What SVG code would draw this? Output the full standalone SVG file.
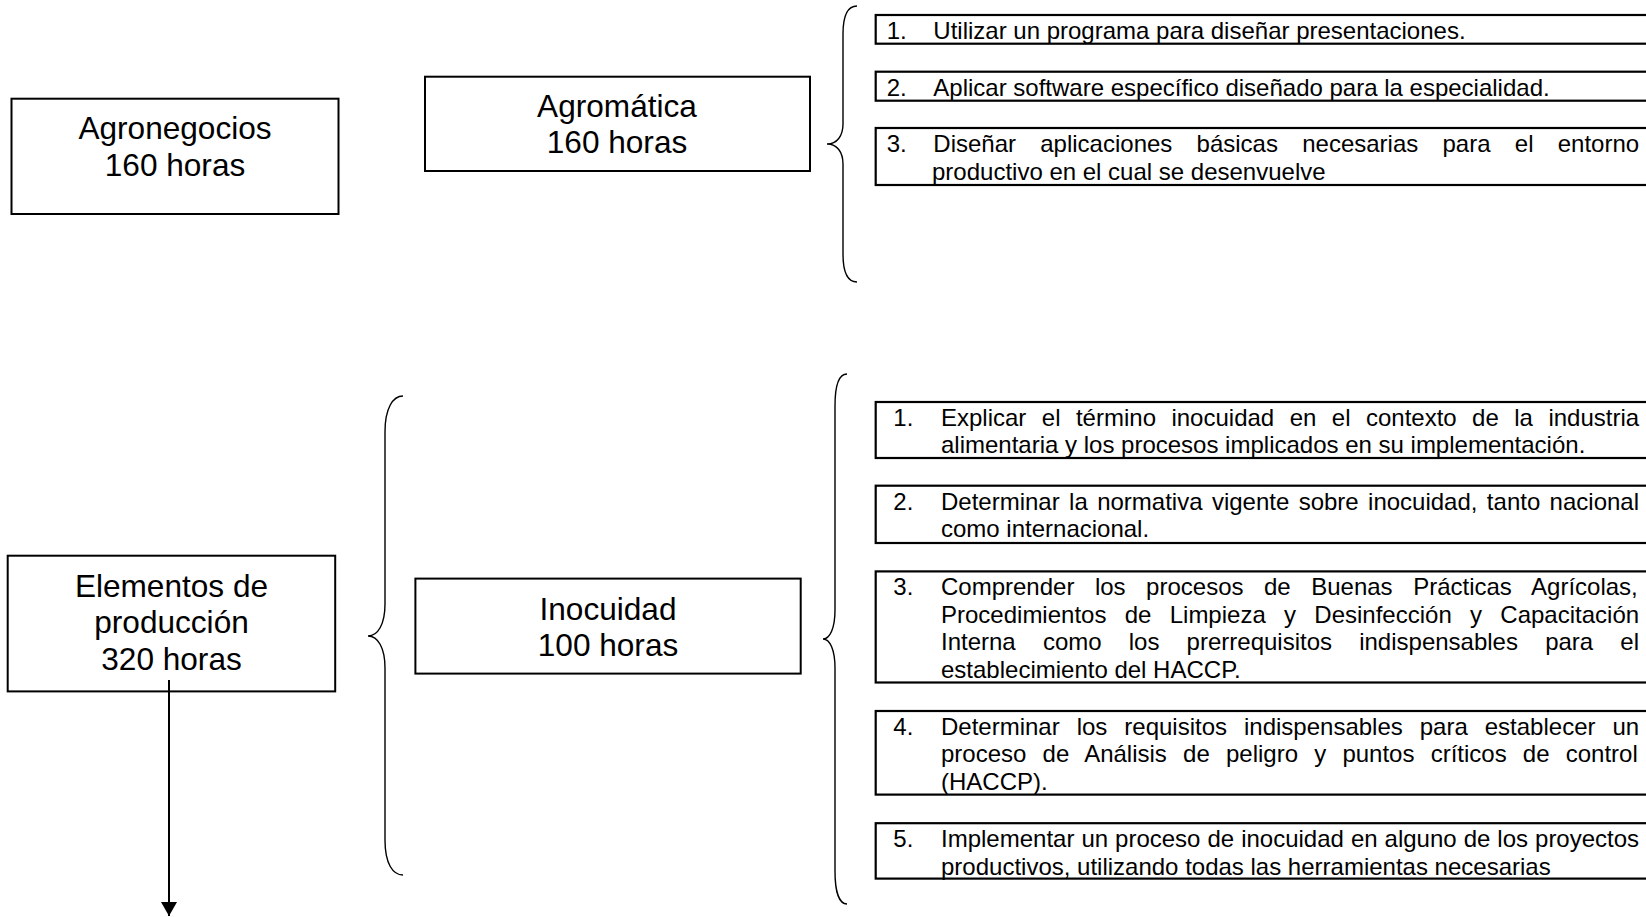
<svg xmlns="http://www.w3.org/2000/svg" width="1646" height="917" viewBox="0 0 1646 917">
<style>
.box{fill:#fff;stroke:#000;stroke-width:2}
.lbox{fill:#fff;stroke:#000;stroke-width:2.2}
.brace{fill:none;stroke:#000;stroke-width:1.4}
.big{font-family:"Liberation Sans",Arial,sans-serif;font-size:31.6px;fill:#000;text-anchor:middle}
.t{font-family:"Liberation Sans",Arial,sans-serif;font-size:24px;fill:#000}
.conn{fill:none;stroke:#000;stroke-width:2}
</style>
<defs>
<marker id="ah" markerUnits="userSpaceOnUse" markerWidth="14" markerHeight="16" refX="14" refY="8" orient="auto" viewBox="0 0 14 16">
<path d="M0 0 L14 8 L0 16 Z" fill="#000"/>
</marker>
</defs>
<rect width="1646" height="917" fill="#fff"/>

<g id="agronegocios">
<rect class="box" x="11.5" y="98.7" width="327" height="115.3"/>
<text class="big" x="175" y="139">Agronegocios</text>
<text class="big" x="175" y="176">160 horas</text>
</g>

<g id="agromatica">
<rect class="box" x="425" y="76.7" width="385" height="94.3"/>
<text class="big" x="617" y="116.7">Agromática</text>
<text class="big" x="617" y="153.3">160 horas</text>
</g>

<g id="brace-agromatica">
<path class="brace" d="M857 6 C848 6 843 16 843 34 L843 124 C843 136 837 144 827 144 C837 144 843 152 843 164 L843 254 C843 272 848 282 857 282"/>
</g>

<g id="agro-obj-1">
<rect class="lbox" x="875.7" y="15" width="790" height="28.7"/>
<text class="t" x="886.7" y="39">1.</text>
<text class="t" x="933.3" y="39">Utilizar un programa para diseñar presentaciones.</text>
</g>
<g id="agro-obj-2">
<rect class="lbox" x="875.7" y="71.7" width="790" height="29"/>
<text class="t" x="886.7" y="95.5">2.</text>
<text class="t" x="933.3" y="95.5">Aplicar software específico diseñado para la especialidad.</text>
</g>
<g id="agro-obj-3">
<rect class="lbox" x="875.7" y="128" width="790" height="57"/>
<text class="t" x="886.7" y="152">3.</text>
<text class="t" x="933.3" y="152" word-spacing="17.58">Diseñar aplicaciones básicas necesarias para el entorno</text>
<text class="t" x="932" y="179.6">productivo en el cual se desenvuelve</text>
</g>

<g id="elementos">
<rect class="box" x="7.7" y="555.7" width="327.5" height="135.7"/>
<text class="big" x="171.5" y="596.8">Elementos de</text>
<text class="big" x="171.5" y="633.4">producción</text>
<text class="big" x="171.5" y="670">320 horas</text>
</g>

<g id="brace-elementos">
<path class="brace" d="M403 396 C393 396 385 408 385 432 L385 604 C385 624 378 636 368 636 C378 636 385 648 385 668 L385 840 C385 864 393 875 403 875"/>
</g>

<g id="inocuidad">
<rect class="box" x="415.4" y="578.6" width="385.3" height="95"/>
<text class="big" x="608" y="619.6">Inocuidad</text>
<text class="big" x="608" y="656.4">100 horas</text>
</g>

<g id="brace-inocuidad">
<path class="brace" d="M847 374 C839 374 835 386 835 406 L835 610 C835 628 830 639 823 639 C830 639 835 650 835 668 L835 871 C835 891 839 904 847 904"/>
</g>

<g id="inoc-obj-1">
<rect class="lbox" x="875.7" y="402" width="790" height="56"/>
<text class="t" x="893.3" y="425.8">1.</text>
<text class="t" x="941" y="425.8" word-spacing="8.79">Explicar el término inocuidad en el contexto de la industria</text>
<text class="t" x="941" y="453.4">alimentaria y los procesos implicados en su implementación.</text>
</g>
<g id="inoc-obj-2">
<rect class="lbox" x="875.7" y="485.7" width="790" height="57.3"/>
<text class="t" x="893.3" y="509.5">2.</text>
<text class="t" x="941" y="509.5" word-spacing="2.71">Determinar la normativa vigente sobre inocuidad, tanto nacional</text>
<text class="t" x="941" y="537.1">como internacional.</text>
</g>
<g id="inoc-obj-3">
<rect class="lbox" x="875.7" y="571.4" width="790" height="111.1"/>
<text class="t" x="893.3" y="595.2">3.</text>
<text class="t" x="941" y="595.2" word-spacing="13.85">Comprender los procesos de Buenas Prácticas Agrícolas,</text>
<text class="t" x="941" y="622.8" word-spacing="11.63">Procedimientos de Limpieza y Desinfección y Capacitación</text>
<text class="t" x="941" y="650.4" word-spacing="20.51">Interna como los prerrequisitos indispensables para el</text>
<text class="t" x="941" y="678">establecimiento del HACCP.</text>
</g>
<g id="inoc-obj-4">
<rect class="lbox" x="875.7" y="711" width="790" height="83.6"/>
<text class="t" x="893.3" y="734.8">4.</text>
<text class="t" x="941" y="734.8" word-spacing="10.3">Determinar los requisitos indispensables para establecer un</text>
<text class="t" x="941" y="762.4" word-spacing="9.53">proceso de Análisis de peligro y puntos críticos de control</text>
<text class="t" x="941" y="790">(HACCP).</text>
</g>
<g id="inoc-obj-5">
<rect class="lbox" x="875.7" y="823.2" width="790" height="55.4"/>
<text class="t" x="893.3" y="847">5.</text>
<text class="t" x="941" y="847" word-spacing="0.33">Implementar un proceso de inocuidad en alguno de los proyectos</text>
<text class="t" x="941" y="874.6">productivos, utilizando todas las herramientas necesarias</text>
</g>

<g id="connectors">
<line class="conn" x1="169" y1="680" x2="169" y2="916" marker-end="url(#ah)"/>
</g>
</svg>
